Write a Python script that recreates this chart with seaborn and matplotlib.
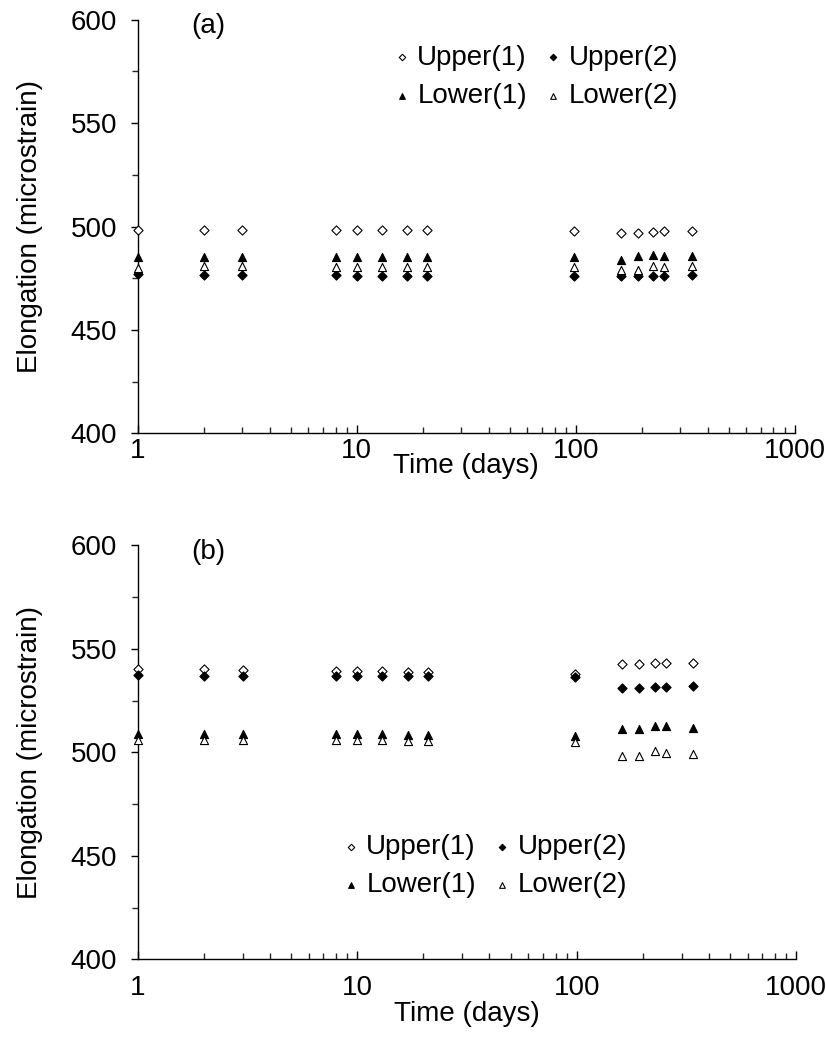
import numpy as np
import pandas as pd
import matplotlib
matplotlib.use("Agg")
import matplotlib.pyplot as plt
import seaborn as sns
from matplotlib.ticker import LogLocator, NullFormatter, FixedLocator

# time points (days)
days = [1, 2, 3, 8, 10, 13, 17, 21, 98, 161, 193, 226, 254, 340]

# panel (a)
a_upper1 = [498.5, 498.5, 498.5, 498.5, 498.5, 498.5, 498.5, 498.5, 498, 497, 497, 497.5, 498, 498]
a_upper2 = [477, 476.5, 476.5, 476.5, 476, 476, 476, 476, 476, 476, 476, 476, 476, 476.5]
a_lower1 = [485.5, 485.5, 485.5, 485.5, 485.5, 485.5, 485.5, 485.5, 485.5, 484, 486, 486.5, 486, 486]
a_lower2 = [480, 481, 481, 480.5, 480.5, 480.5, 480.5, 480.5, 480.5, 479, 479, 481, 480.5, 481]

# panel (b)
b_upper1 = [540.5, 540.5, 540, 539.5, 539.5, 539.5, 539, 539, 538, 542.5, 542.5, 543, 543, 543]
b_upper2 = [537.5, 537, 537, 537, 537, 537, 537, 537, 536.5, 531, 531, 531.5, 531.5, 532]
b_lower1 = [509, 509, 509, 509, 509, 509, 508.5, 508.5, 508, 511.5, 511.5, 512.5, 512.5, 512]
b_lower2 = [506, 506, 506, 506, 506, 506, 505.5, 505.5, 505, 498, 498, 500.5, 499.5, 499]

labels = ["Upper(1)", "Lower(1)", "Upper(2)", "Lower(2)"]
markers = {"Upper(1)": "D", "Lower(1)": "^", "Upper(2)": "D", "Lower(2)": "^"}
filled = {"Upper(1)": False, "Lower(1)": True, "Upper(2)": True, "Lower(2)": False}
sizes = {"Upper(1)": 22, "Lower(1)": 34, "Upper(2)": 22, "Lower(2)": 34}

sns.set_style("ticks")
plt.rcParams["font.family"] = ["Liberation Sans", "DejaVu Sans"]
plt.rcParams["text.color"] = "black"
plt.rcParams["axes.labelcolor"] = "black"
FS = 20

fig = plt.figure(figsize=(8.26, 10.37), dpi=100)
ax_a = fig.add_axes([0.167, 0.582, 0.795, 0.399])
ax_b = fig.add_axes([0.167, 0.075, 0.797, 0.399])


def draw(ax, data, tag, leg_anchor, xpad, xlabpad):
    df = pd.DataFrame({"days": days * 4,
                       "value": sum(data, []),
                       "series": np.repeat(labels, len(days))})
    for name in labels:
        sub = df[df["series"] == name]
        sns.scatterplot(data=sub, x="days", y="value", ax=ax,
                        marker=markers[name], s=sizes[name],
                        facecolor="black" if filled[name] else "white",
                        edgecolor="black", linewidth=0.8, label=name,
                        clip_on=False, zorder=3)
    ax.set_xscale("log")
    ax.set_xlim(1, 1000)
    ax.set_ylim(400, 600)
    ax.set_yticks([400, 450, 500, 550, 600])
    ax.yaxis.set_minor_locator(FixedLocator([425, 475, 525, 575]))
    ax.set_xticks([1, 10, 100, 1000])
    ax.set_xticklabels(["1", "10", "100", "1000"])
    ax.xaxis.set_minor_locator(LogLocator(base=10, subs=np.arange(2, 10)))
    ax.xaxis.set_minor_formatter(NullFormatter())
    sns.despine(ax=ax)
    for s in ["left", "bottom"]:
        ax.spines[s].set_linewidth(1.0)
        ax.spines[s].set_color("black")
    ax.tick_params(axis="y", which="major", direction="out", length=5, width=1,
                   labelsize=FS, colors="black", pad=10)
    ax.tick_params(axis="y", which="minor", direction="out", length=4, width=1)
    ax.tick_params(axis="x", which="major", direction="in", length=6, width=1,
                   labelsize=FS, colors="black", pad=xpad)
    ax.tick_params(axis="x", which="minor", direction="in", length=4, width=1)
    ax.set_xlabel("Time (days)", fontsize=FS, labelpad=xlabpad)
    ax.set_ylabel("Elongation (microstrain)", fontsize=FS, labelpad=20)
    ax.text(0.107, 0.985, tag, transform=ax.transAxes, fontsize=FS,
            ha="center", va="center")
    ax.legend(loc="center", bbox_to_anchor=leg_anchor, ncol=2, frameon=False,
              fontsize=FS, handlelength=0.5, handletextpad=0.3,
              columnspacing=0.7, labelspacing=0.45, markerscale=0.7,
              borderpad=0, borderaxespad=0)


draw(ax_a, [a_upper1, a_lower1, a_upper2, a_lower2], "(a)", (0.607, 0.862), 3, -8)
draw(ax_b, [b_upper1, b_lower1, b_upper2, b_lower2], "(b)", (0.528, 0.225), 11, 0)

fig.savefig("out.png", dpi=100)
